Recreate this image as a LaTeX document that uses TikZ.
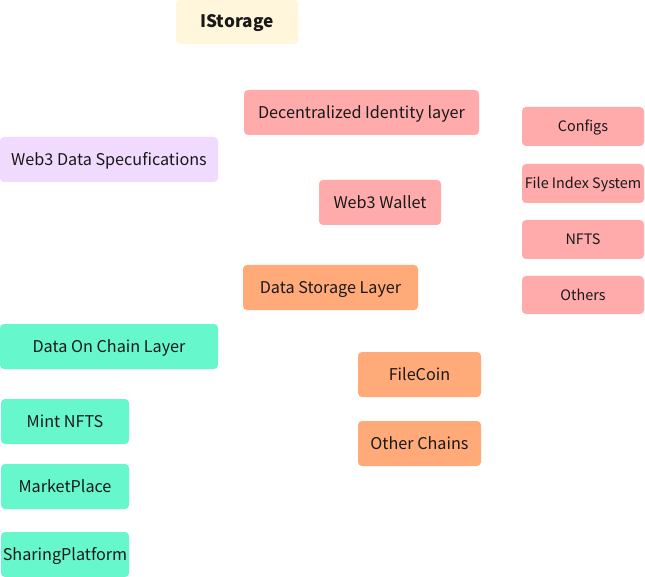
\documentclass[tikz,border=0pt]{standalone}
\usepackage{fontspec}
\setmainfont{Noto Sans CJK SC}
\usepackage{xcolor}
\usetikzlibrary{positioning}

\definecolor{creamfill}{HTML}{FFF6DB}
\definecolor{pinkfill}{HTML}{FFABAB}
\definecolor{lilacfill}{HTML}{F0DBFF}
\definecolor{orangefill}{HTML}{FFAA78}
\definecolor{mintfill}{HTML}{66F7CC}

\tikzset{
  card/.style={rectangle, rounded corners=4pt, inner sep=0pt, align=center,
    text height=14pt, text depth=2.4pt,
    text=black!90, font=\fontsize{16.2}{18}\selectfont},
  size/.style 2 args={minimum width=#1, minimum height=#2},
  rootcard/.style={card, fill=creamfill, font=\fontsize{17.2}{20}\selectfont\bfseries},
  idcard/.style={card, fill=pinkfill},
  subcard/.style={card, fill=pinkfill, text height=13pt, text depth=2pt,
    font=\fontsize{14.4}{16}\selectfont},
  speccard/.style={card, fill=lilacfill},
  storecard/.style={card, fill=orangefill},
  chaincard/.style={card, fill=mintfill}
}

\begin{document}
\begin{tikzpicture}[x=1pt, y=-1pt]
    \useasboundingbox (0,0) rectangle (645,577);
    % top
    \node[rootcard, size={122pt}{44pt}] (istorage) at (237,22) {IStorage};
    % identity
    \node[idcard, size={235pt}{45pt}] (identity) at (361.5,112.5) {Decentralized Identity layer};
    \node[idcard, size={122pt}{45pt}] (wallet) at (380,202.5) {Web3 Wallet};
    \node[subcard, size={122pt}{39pt}] (configs) at (583,126.5) {Configs};
    \node[subcard, size={122pt}{39pt}] (fileindex) at (583,183.5) {File Index System};
    \node[subcard, size={122pt}{39pt}] (nfts) at (583,239.5) {NFTS};
    \node[subcard, size={122pt}{38pt}] (others) at (583,295) {Others};
    % specs
    \node[speccard, size={218pt}{45pt}] (specs) at (109,159.5) {Web3 Data Specufications};
    % storage
    \node[storecard, size={175pt}{45pt}] (storage) at (330.5,287.5) {Data Storage Layer};
    \node[storecard, size={123pt}{45pt}] (filecoin) at (419.5,374.5) {FileCoin};
    \node[storecard, size={123pt}{45pt}] (otherchains) at (419.5,443.5) {Other Chains};
    % on chain
    \node[chaincard, size={218pt}{45pt}] (onchain) at (109,346.5) {Data On Chain Layer};
    \node[chaincard, size={128pt}{45pt}] (mint) at (65,421.5) {Mint NFTS};
    \node[chaincard, size={128pt}{45pt}] (market) at (65,486.5) {MarketPlace};
    \node[chaincard, size={128pt}{45pt}] (sharing) at (65,554.5) {SharingPlatform};
\end{tikzpicture}
\end{document}
